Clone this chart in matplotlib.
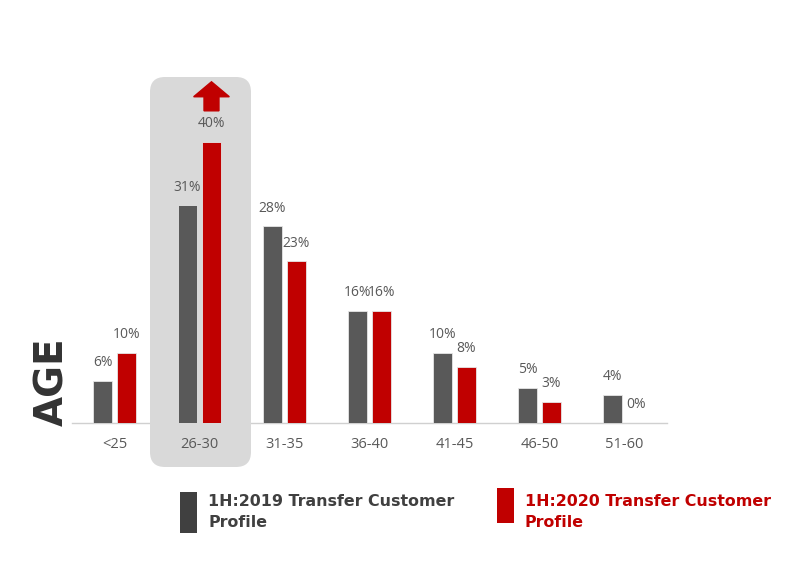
import matplotlib
matplotlib.use("Agg")
import matplotlib.pyplot as plt
from matplotlib.patches import FancyBboxPatch, Rectangle, FancyArrow

categories = ["<25", "26-30", "31-35", "36-40", "41-45", "46-50", "51-60"]
values_2019 = [6, 31, 28, 16, 10, 5, 4]
values_2020 = [10, 40, 23, 16, 8, 3, 0]
label_2019 = "1H:2019 Transfer Customer\nProfile"
label_2020 = "1H:2020 Transfer Customer\nProfile"

GRAY = "#595959"
RED = "#c00000"
TXT = "#595959"

plt.rcParams["font.family"] = ["Open Sans", "DejaVu Sans"]
BOLD = ["DejaVu Sans"]

W, H = 800, 566
fig = plt.figure(figsize=(8, 5.66), dpi=100)
ax_left, ax_right = 72, 667
ax_bottom, ax_top = 423, 106.6
ax = fig.add_axes([ax_left / W, 1 - ax_bottom / H, (ax_right - ax_left) / W, (ax_bottom - ax_top) / H])
ax.set_xlim(-0.5, len(categories) - 0.5)
ax.set_ylim(0, 45)
ax.patch.set_alpha(0)

# highlight box behind the 26-30 group (in inches)
box = FancyBboxPatch((1.50, 0.99), 1.01, 3.90,
                     boxstyle="round,pad=0,rounding_size=0.15",
                     transform=fig.dpi_scale_trans, facecolor="#d9d9d9",
                     edgecolor="none", zorder=1.5, clip_on=False)
ax.add_artist(box)

bw = 0.225
off = 0.141
x = list(range(len(categories)))
b1 = ax.bar([i - off for i in x], values_2019, width=bw, color=GRAY,
            edgecolor="#e6e6e6", linewidth=0.6, zorder=3)
b2 = ax.bar([i + off for i in x], values_2020, width=bw, color=RED,
            edgecolor="#e6e6e6", linewidth=0.6, zorder=3)
for i in x:
    ax.annotate(f"{values_2019[i]}%", (i - off, values_2019[i]), xytext=(0, 18),
                textcoords="offset pixels", ha="center", va="center",
                fontsize=10, color=TXT, zorder=4)
    ax.annotate(f"{values_2020[i]}%", (i + off, values_2020[i]), xytext=(0, 18),
                textcoords="offset pixels", ha="center", va="center",
                fontsize=10, color=TXT, zorder=4)

# up arrow above 40% bar
ax.add_patch(FancyArrow(1 + off, 44.4, 0, 2.0, width=0.176, head_width=0.42,
                        head_length=2.13, length_includes_head=False,
                        color=RED, clip_on=False, zorder=4))

ax.set_xticks(x)
ax.set_xticklabels(categories, fontsize=10.5, color=TXT)
ax.tick_params(axis="x", length=0, pad=10)
ax.set_yticks([])
for s in ["top", "right", "left"]:
    ax.spines[s].set_visible(False)
ax.spines["bottom"].set_color("#d0d0d0")
ax.spines["bottom"].set_linewidth(1)
ax.spines["bottom"].set_zorder(1)

fig.text(52 / W, 1 - 382 / H, "AGE", rotation=90, ha="center", va="center",
         fontsize=28, fontweight="bold", color="#333333", family=BOLD)

# legend
fig.patches.append(Rectangle((180 / W, 1 - 533 / H), 17 / W, 41 / H,
                             transform=fig.transFigure, facecolor="#404040",
                             edgecolor="none"))
fig.text(208 / W, 1 - 512 / H, label_2019, ha="left", va="center",
         fontsize=11.4, fontweight="bold", color="#404040", linespacing=1.45,
         family=BOLD)
fig.patches.append(Rectangle((497 / W, 1 - 523 / H), 17 / W, 35 / H,
                             transform=fig.transFigure, facecolor=RED,
                             edgecolor="none"))
fig.text(525 / W, 1 - 512 / H, label_2020, ha="left", va="center",
         fontsize=11.4, fontweight="bold", color=RED, linespacing=1.45,
         family=BOLD)

fig.savefig("out.png", dpi=100, facecolor="white")
